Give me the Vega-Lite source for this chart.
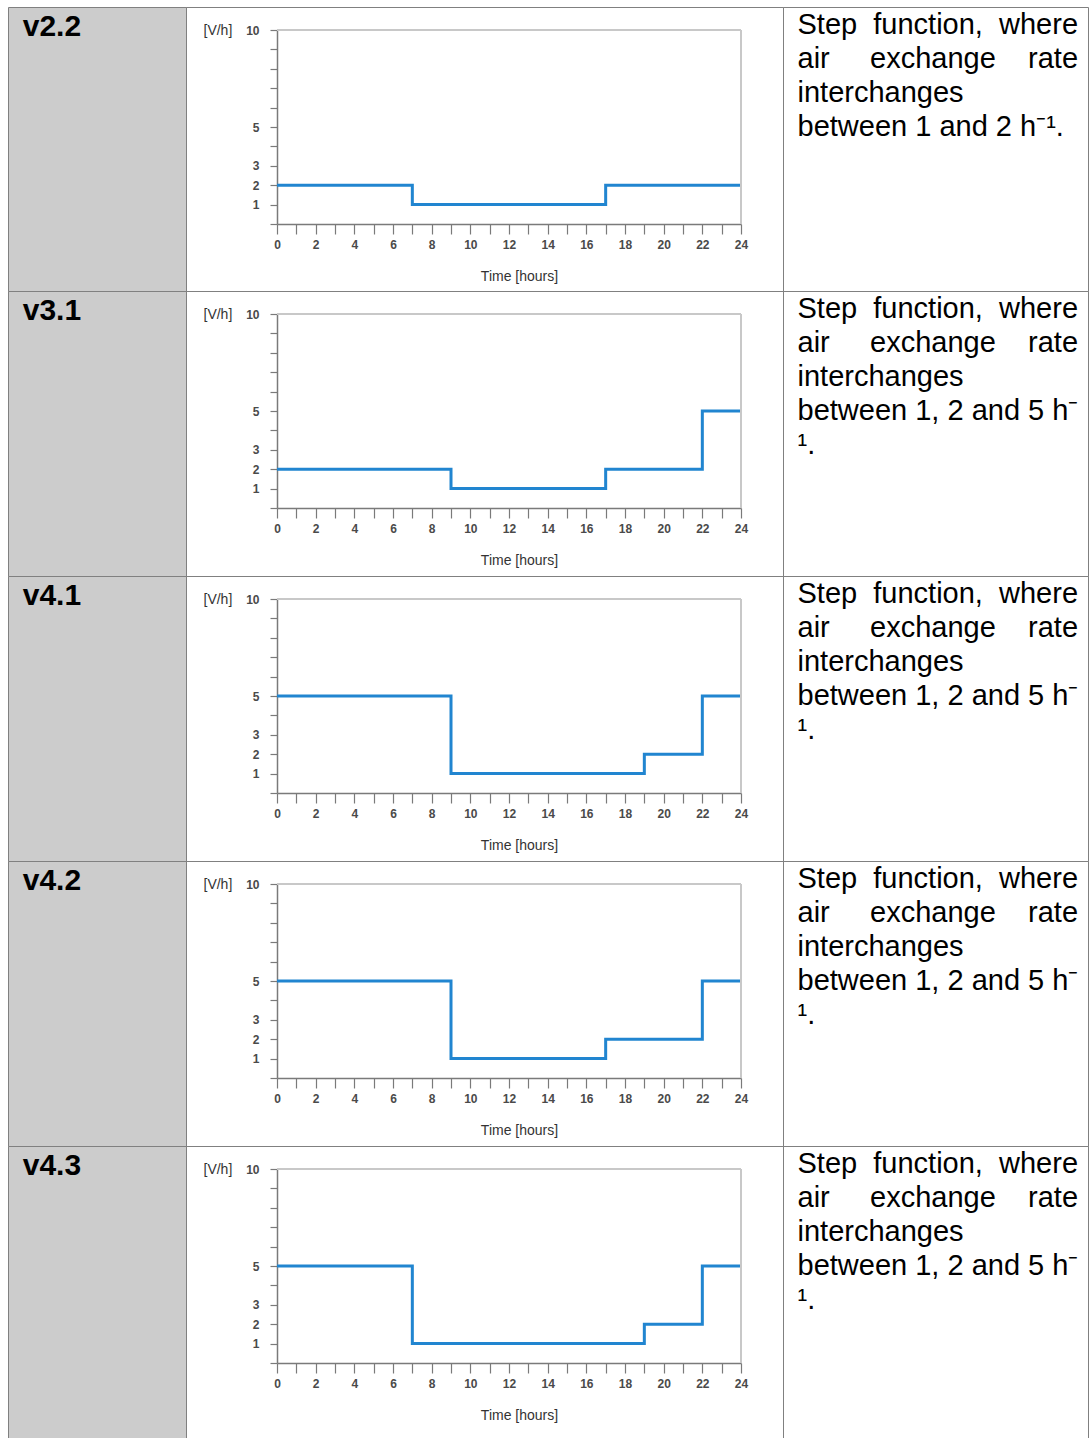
{
  "$schema": "https://vega.github.io/schema/vega-lite/v6.json",
  "padding": {"left": 7, "top": 6, "right": 0, "bottom": 0},
  "background": "white",
  "columns": 3,
  "spacing": 0,
  "bounds": "flush",
  "config": {
    "font": "Liberation Sans",
    "view": {"stroke": "#808080", "strokeWidth": 1},
    "axis": {
      "grid": false,
      "format": "d",
      "labelFont": "Liberation Sans",
      "labelFontSize": 12,
      "labelFontWeight": "bold",
      "labelColor": "#4a4a4a",
      "domainColor": "#7a7a7a",
      "domainWidth": 1.5,
      "tickColor": "#7a7a7a",
      "tickWidth": 1.2,
      "labelFlush": false,
      "labelOverlap": false,
      "labelBound": false,
      "titleFont": "Liberation Sans",
      "titleFontSize": 14,
      "titleFontWeight": "normal",
      "titleColor": "#333333"
    }
  },
  "datasets": {
    "v22": [{"hour": 0, "ach": 2}, {"hour": 7, "ach": 1}, {"hour": 17, "ach": 2}, {"hour": 24, "ach": 2}],
    "v31": [{"hour": 0, "ach": 2}, {"hour": 9, "ach": 1}, {"hour": 17, "ach": 2}, {"hour": 22, "ach": 5}, {"hour": 24, "ach": 5}],
    "v41": [{"hour": 0, "ach": 5}, {"hour": 9, "ach": 1}, {"hour": 19, "ach": 2}, {"hour": 22, "ach": 5}, {"hour": 24, "ach": 5}],
    "v42": [{"hour": 0, "ach": 5}, {"hour": 9, "ach": 1}, {"hour": 17, "ach": 2}, {"hour": 22, "ach": 5}, {"hour": 24, "ach": 5}],
    "v43": [{"hour": 0, "ach": 5}, {"hour": 7, "ach": 1}, {"hour": 19, "ach": 2}, {"hour": 22, "ach": 5}, {"hour": 24, "ach": 5}],
    "txt12": [
      {"line": 0, "text": "Step\u00a0\u00a0function,\u00a0\u00a0where"},
      {"line": 1, "text": "air\u00a0\u00a0\u00a0\u00a0\u00a0exchange\u00a0\u00a0\u00a0\u00a0rate"},
      {"line": 2, "text": "interchanges"},
      {"line": 3, "text": "between 1 and 2 h\u207b\u00b9."}
    ],
    "txt125": [
      {"line": 0, "text": "Step\u00a0\u00a0function,\u00a0\u00a0where"},
      {"line": 1, "text": "air\u00a0\u00a0\u00a0\u00a0\u00a0exchange\u00a0\u00a0\u00a0\u00a0rate"},
      {"line": 2, "text": "interchanges"},
      {"line": 3, "text": "between 1, 2 and 5 h\u207b"},
      {"line": 4, "text": "\u00b9."}
    ]
  },
  "concat": [
    {
      "width": 178, "height": 284, "view": {"fill": "#cccccc"},
      "data": {"values": [{"line": 0, "label": "v2.2"}]},
      "mark": {"type": "text", "align": "left", "baseline": "alphabetic", "fontSize": 30, "fontWeight": "bold", "color": "#000000"},
      "encoding": {
        "x": {"datum": 0, "type": "quantitative", "scale": {"domain": [-0.09, 1], "nice": false, "zero": false}, "axis": null},
        "y": {"field": "line", "type": "quantitative", "scale": {"domain": [-0.853, 7.5], "reverse": true, "nice": false, "zero": false}, "axis": null},
        "text": {"field": "label"}
      }
    },
    {
      "width": 597, "height": 284,
      "layer": [
        {"data": {"name": "v22"}, "mark": {"type": "line", "interpolate": "step-after", "color": "#2185d0", "strokeWidth": 3}, "encoding": {
          "x": {"field": "hour", "type": "quantitative", "scale": {"domain": [0, 24], "range": [91, 555], "nice": false, "zero": false},
            "axis": {"values": [0,1,2,3,4,5,6,7,8,9,10,11,12,13,14,15,16,17,18,19,20,21,22,23,24], "tickCount": 100, "labelExpr": "datum.value % 2 === 0 ? datum.label : ''", "offset": -67, "tickSize": 10, "labelPadding": 5, "title": "Time [hours]", "titleX": 333, "titleY": 52, "titleAlign": "center", "titleBaseline": "middle"}},
          "y": {"field": "ach", "type": "quantitative", "scale": {"domain": [0, 10], "range": [217, 23], "nice": false, "zero": false},
            "axis": {"values": [0,1,2,3,4,5,6,7,8,9,10], "tickCount": 100, "labelExpr": "indexof([1,2,3,5,10], datum.value) >= 0 ? datum.label : ''", "offset": -91, "tickSize": 7, "labelPadding": 11, "title": "[V/h]", "titleAngle": 0, "titleAlign": "left", "titleBaseline": "middle", "titleX": -74, "titleY": 23}}
        }},
        {"data": {"values": [{}]}, "mark": {"type": "rule", "color": "#c8c8c8", "strokeWidth": 2}, "encoding": {"x": {"datum": 0}, "x2": {"datum": 24}, "y": {"datum": 10}}},
        {"data": {"values": [{}]}, "mark": {"type": "rule", "color": "#c8c8c8", "strokeWidth": 2}, "encoding": {"x": {"datum": 24}, "y": {"datum": 0}, "y2": {"datum": 10}}}
      ]
    },
    {
      "width": 305, "height": 284,
      "data": {"name": "txt12"},
      "mark": {"type": "text", "align": "left", "baseline": "alphabetic", "fontSize": 29, "color": "#000000"},
      "encoding": {
        "x": {"datum": 0, "type": "quantitative", "scale": {"domain": [-0.05, 1], "nice": false, "zero": false}, "axis": null},
        "y": {"field": "line", "type": "quantitative", "scale": {"domain": [-0.803, 7.55], "reverse": true, "nice": false, "zero": false}, "axis": null},
        "text": {"field": "text"}
      }
    },
    {
      "width": 178, "height": 285, "view": {"fill": "#cccccc"},
      "data": {"values": [{"line": 0, "label": "v3.1"}]},
      "mark": {"type": "text", "align": "left", "baseline": "alphabetic", "fontSize": 30, "fontWeight": "bold", "color": "#000000"},
      "encoding": {
        "x": {"datum": 0, "type": "quantitative", "scale": {"domain": [-0.09, 1], "nice": false, "zero": false}, "axis": null},
        "y": {"field": "line", "type": "quantitative", "scale": {"domain": [-0.853, 7.529], "reverse": true, "nice": false, "zero": false}, "axis": null},
        "text": {"field": "label"}
      }
    },
    {
      "width": 597, "height": 285,
      "layer": [
        {"data": {"name": "v31"}, "mark": {"type": "line", "interpolate": "step-after", "color": "#2185d0", "strokeWidth": 3}, "encoding": {
          "x": {"field": "hour", "type": "quantitative", "scale": {"domain": [0, 24], "range": [91, 555], "nice": false, "zero": false},
            "axis": {"values": [0,1,2,3,4,5,6,7,8,9,10,11,12,13,14,15,16,17,18,19,20,21,22,23,24], "tickCount": 100, "labelExpr": "datum.value % 2 === 0 ? datum.label : ''", "offset": -68, "tickSize": 10, "labelPadding": 5, "title": "Time [hours]", "titleX": 333, "titleY": 52, "titleAlign": "center", "titleBaseline": "middle"}},
          "y": {"field": "ach", "type": "quantitative", "scale": {"domain": [0, 10], "range": [217, 23], "nice": false, "zero": false},
            "axis": {"values": [0,1,2,3,4,5,6,7,8,9,10], "tickCount": 100, "labelExpr": "indexof([1,2,3,5,10], datum.value) >= 0 ? datum.label : ''", "offset": -91, "tickSize": 7, "labelPadding": 11, "title": "[V/h]", "titleAngle": 0, "titleAlign": "left", "titleBaseline": "middle", "titleX": -74, "titleY": 23}}
        }},
        {"data": {"values": [{}]}, "mark": {"type": "rule", "color": "#c8c8c8", "strokeWidth": 2}, "encoding": {"x": {"datum": 0}, "x2": {"datum": 24}, "y": {"datum": 10}}},
        {"data": {"values": [{}]}, "mark": {"type": "rule", "color": "#c8c8c8", "strokeWidth": 2}, "encoding": {"x": {"datum": 24}, "y": {"datum": 0}, "y2": {"datum": 10}}}
      ]
    },
    {
      "width": 305, "height": 285,
      "data": {"name": "txt125"},
      "mark": {"type": "text", "align": "left", "baseline": "alphabetic", "fontSize": 29, "color": "#000000"},
      "encoding": {
        "x": {"datum": 0, "type": "quantitative", "scale": {"domain": [-0.05, 1], "nice": false, "zero": false}, "axis": null},
        "y": {"field": "line", "type": "quantitative", "scale": {"domain": [-0.803, 7.579], "reverse": true, "nice": false, "zero": false}, "axis": null},
        "text": {"field": "text"}
      }
    },
    {
      "width": 178, "height": 285, "view": {"fill": "#cccccc"},
      "data": {"values": [{"line": 0, "label": "v4.1"}]},
      "mark": {"type": "text", "align": "left", "baseline": "alphabetic", "fontSize": 30, "fontWeight": "bold", "color": "#000000"},
      "encoding": {
        "x": {"datum": 0, "type": "quantitative", "scale": {"domain": [-0.09, 1], "nice": false, "zero": false}, "axis": null},
        "y": {"field": "line", "type": "quantitative", "scale": {"domain": [-0.853, 7.529], "reverse": true, "nice": false, "zero": false}, "axis": null},
        "text": {"field": "label"}
      }
    },
    {
      "width": 597, "height": 285,
      "layer": [
        {"data": {"name": "v41"}, "mark": {"type": "line", "interpolate": "step-after", "color": "#2185d0", "strokeWidth": 3}, "encoding": {
          "x": {"field": "hour", "type": "quantitative", "scale": {"domain": [0, 24], "range": [91, 555], "nice": false, "zero": false},
            "axis": {"values": [0,1,2,3,4,5,6,7,8,9,10,11,12,13,14,15,16,17,18,19,20,21,22,23,24], "tickCount": 100, "labelExpr": "datum.value % 2 === 0 ? datum.label : ''", "offset": -68, "tickSize": 10, "labelPadding": 5, "title": "Time [hours]", "titleX": 333, "titleY": 52, "titleAlign": "center", "titleBaseline": "middle"}},
          "y": {"field": "ach", "type": "quantitative", "scale": {"domain": [0, 10], "range": [217, 23], "nice": false, "zero": false},
            "axis": {"values": [0,1,2,3,4,5,6,7,8,9,10], "tickCount": 100, "labelExpr": "indexof([1,2,3,5,10], datum.value) >= 0 ? datum.label : ''", "offset": -91, "tickSize": 7, "labelPadding": 11, "title": "[V/h]", "titleAngle": 0, "titleAlign": "left", "titleBaseline": "middle", "titleX": -74, "titleY": 23}}
        }},
        {"data": {"values": [{}]}, "mark": {"type": "rule", "color": "#c8c8c8", "strokeWidth": 2}, "encoding": {"x": {"datum": 0}, "x2": {"datum": 24}, "y": {"datum": 10}}},
        {"data": {"values": [{}]}, "mark": {"type": "rule", "color": "#c8c8c8", "strokeWidth": 2}, "encoding": {"x": {"datum": 24}, "y": {"datum": 0}, "y2": {"datum": 10}}}
      ]
    },
    {
      "width": 305, "height": 285,
      "data": {"name": "txt125"},
      "mark": {"type": "text", "align": "left", "baseline": "alphabetic", "fontSize": 29, "color": "#000000"},
      "encoding": {
        "x": {"datum": 0, "type": "quantitative", "scale": {"domain": [-0.05, 1], "nice": false, "zero": false}, "axis": null},
        "y": {"field": "line", "type": "quantitative", "scale": {"domain": [-0.803, 7.579], "reverse": true, "nice": false, "zero": false}, "axis": null},
        "text": {"field": "text"}
      }
    },
    {
      "width": 178, "height": 285, "view": {"fill": "#cccccc"},
      "data": {"values": [{"line": 0, "label": "v4.2"}]},
      "mark": {"type": "text", "align": "left", "baseline": "alphabetic", "fontSize": 30, "fontWeight": "bold", "color": "#000000"},
      "encoding": {
        "x": {"datum": 0, "type": "quantitative", "scale": {"domain": [-0.09, 1], "nice": false, "zero": false}, "axis": null},
        "y": {"field": "line", "type": "quantitative", "scale": {"domain": [-0.853, 7.529], "reverse": true, "nice": false, "zero": false}, "axis": null},
        "text": {"field": "label"}
      }
    },
    {
      "width": 597, "height": 285,
      "layer": [
        {"data": {"name": "v42"}, "mark": {"type": "line", "interpolate": "step-after", "color": "#2185d0", "strokeWidth": 3}, "encoding": {
          "x": {"field": "hour", "type": "quantitative", "scale": {"domain": [0, 24], "range": [91, 555], "nice": false, "zero": false},
            "axis": {"values": [0,1,2,3,4,5,6,7,8,9,10,11,12,13,14,15,16,17,18,19,20,21,22,23,24], "tickCount": 100, "labelExpr": "datum.value % 2 === 0 ? datum.label : ''", "offset": -68, "tickSize": 10, "labelPadding": 5, "title": "Time [hours]", "titleX": 333, "titleY": 52, "titleAlign": "center", "titleBaseline": "middle"}},
          "y": {"field": "ach", "type": "quantitative", "scale": {"domain": [0, 10], "range": [217, 23], "nice": false, "zero": false},
            "axis": {"values": [0,1,2,3,4,5,6,7,8,9,10], "tickCount": 100, "labelExpr": "indexof([1,2,3,5,10], datum.value) >= 0 ? datum.label : ''", "offset": -91, "tickSize": 7, "labelPadding": 11, "title": "[V/h]", "titleAngle": 0, "titleAlign": "left", "titleBaseline": "middle", "titleX": -74, "titleY": 23}}
        }},
        {"data": {"values": [{}]}, "mark": {"type": "rule", "color": "#c8c8c8", "strokeWidth": 2}, "encoding": {"x": {"datum": 0}, "x2": {"datum": 24}, "y": {"datum": 10}}},
        {"data": {"values": [{}]}, "mark": {"type": "rule", "color": "#c8c8c8", "strokeWidth": 2}, "encoding": {"x": {"datum": 24}, "y": {"datum": 0}, "y2": {"datum": 10}}}
      ]
    },
    {
      "width": 305, "height": 285,
      "data": {"name": "txt125"},
      "mark": {"type": "text", "align": "left", "baseline": "alphabetic", "fontSize": 29, "color": "#000000"},
      "encoding": {
        "x": {"datum": 0, "type": "quantitative", "scale": {"domain": [-0.05, 1], "nice": false, "zero": false}, "axis": null},
        "y": {"field": "line", "type": "quantitative", "scale": {"domain": [-0.803, 7.579], "reverse": true, "nice": false, "zero": false}, "axis": null},
        "text": {"field": "text"}
      }
    },
    {
      "width": 178, "height": 292, "view": {"fill": "#cccccc"},
      "data": {"values": [{"line": 0, "label": "v4.3"}]},
      "mark": {"type": "text", "align": "left", "baseline": "alphabetic", "fontSize": 30, "fontWeight": "bold", "color": "#000000"},
      "encoding": {
        "x": {"datum": 0, "type": "quantitative", "scale": {"domain": [-0.09, 1], "nice": false, "zero": false}, "axis": null},
        "y": {"field": "line", "type": "quantitative", "scale": {"domain": [-0.853, 7.735], "reverse": true, "nice": false, "zero": false}, "axis": null},
        "text": {"field": "label"}
      }
    },
    {
      "width": 597, "height": 292,
      "layer": [
        {"data": {"name": "v43"}, "mark": {"type": "line", "interpolate": "step-after", "color": "#2185d0", "strokeWidth": 3}, "encoding": {
          "x": {"field": "hour", "type": "quantitative", "scale": {"domain": [0, 24], "range": [91, 555], "nice": false, "zero": false},
            "axis": {"values": [0,1,2,3,4,5,6,7,8,9,10,11,12,13,14,15,16,17,18,19,20,21,22,23,24], "tickCount": 100, "labelExpr": "datum.value % 2 === 0 ? datum.label : ''", "offset": -75, "tickSize": 10, "labelPadding": 5, "title": "Time [hours]", "titleX": 333, "titleY": 52, "titleAlign": "center", "titleBaseline": "middle"}},
          "y": {"field": "ach", "type": "quantitative", "scale": {"domain": [0, 10], "range": [217, 23], "nice": false, "zero": false},
            "axis": {"values": [0,1,2,3,4,5,6,7,8,9,10], "tickCount": 100, "labelExpr": "indexof([1,2,3,5,10], datum.value) >= 0 ? datum.label : ''", "offset": -91, "tickSize": 7, "labelPadding": 11, "title": "[V/h]", "titleAngle": 0, "titleAlign": "left", "titleBaseline": "middle", "titleX": -74, "titleY": 23}}
        }},
        {"data": {"values": [{}]}, "mark": {"type": "rule", "color": "#c8c8c8", "strokeWidth": 2}, "encoding": {"x": {"datum": 0}, "x2": {"datum": 24}, "y": {"datum": 10}}},
        {"data": {"values": [{}]}, "mark": {"type": "rule", "color": "#c8c8c8", "strokeWidth": 2}, "encoding": {"x": {"datum": 24}, "y": {"datum": 0}, "y2": {"datum": 10}}}
      ]
    },
    {
      "width": 305, "height": 292,
      "data": {"name": "txt125"},
      "mark": {"type": "text", "align": "left", "baseline": "alphabetic", "fontSize": 29, "color": "#000000"},
      "encoding": {
        "x": {"datum": 0, "type": "quantitative", "scale": {"domain": [-0.05, 1], "nice": false, "zero": false}, "axis": null},
        "y": {"field": "line", "type": "quantitative", "scale": {"domain": [-0.803, 7.785], "reverse": true, "nice": false, "zero": false}, "axis": null},
        "text": {"field": "text"}
      }
    }
  ]
}
